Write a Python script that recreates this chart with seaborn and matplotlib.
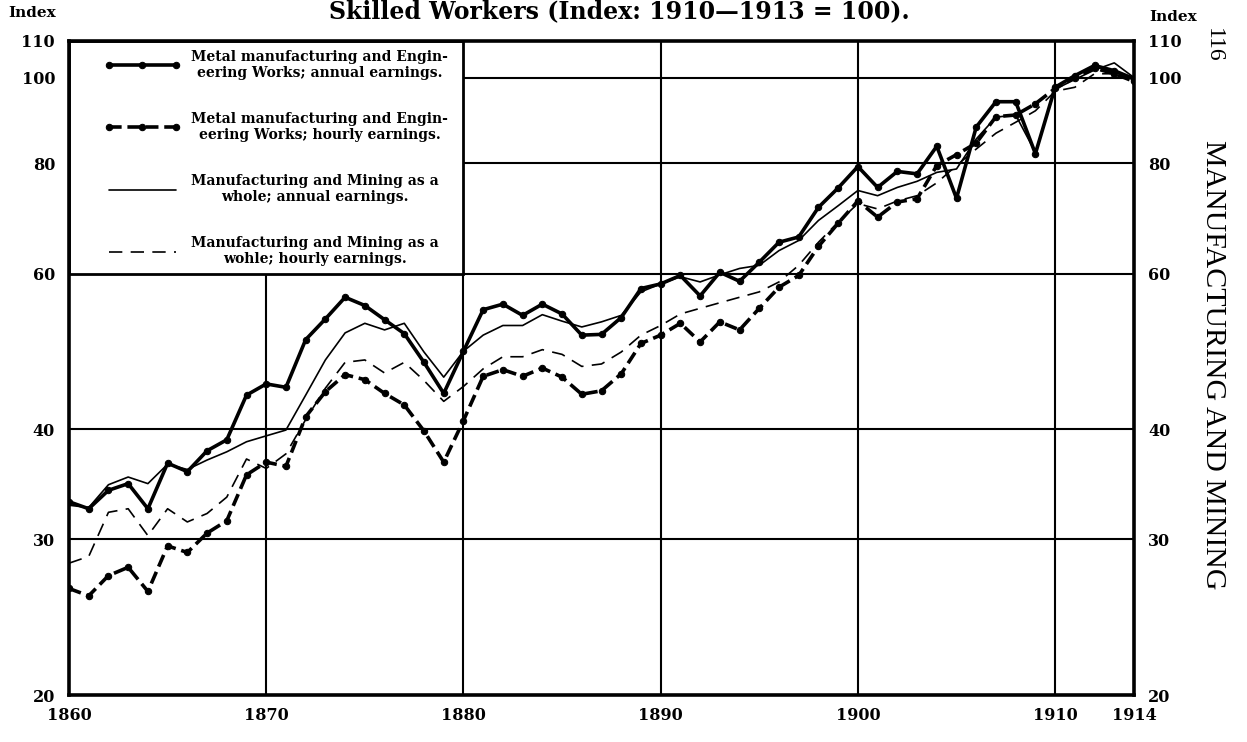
import pandas as pd
import matplotlib
matplotlib.use('Agg')
import matplotlib.pyplot as plt
from matplotlib.patches import Rectangle
import seaborn as sns

years = list(range(1860, 1915))

metal_annual = [33.1, 32.5, 34.1, 34.7, 32.5, 36.6, 35.8, 37.8, 38.9, 43.7, 45.0,
                44.6, 50.5, 53.3, 56.4, 55.2, 53.2, 51.3, 47.6, 43.9, 49.0,
                54.6, 55.4, 53.8, 55.4, 54.0, 51.1, 51.2, 53.5, 57.7, 58.4,
                59.7, 56.6, 60.2, 58.8, 61.8, 65.1, 66.0, 71.3, 75.0, 79.3,
                75.1, 78.3, 77.8, 83.6, 73.0, 87.9, 93.9, 93.9, 82.0, 97.5,
                100.5, 103.2, 101.8, 99.7]

metal_hourly = [26.4, 25.9, 27.3, 27.9, 26.2, 29.5, 29.0, 30.5, 31.5, 35.5, 36.7,
                36.3, 41.3, 44.1, 46.1, 45.5, 43.9, 42.6, 39.8, 36.7, 40.9,
                45.9, 46.7, 45.9, 46.9, 45.8, 43.8, 44.2, 46.2, 50.0, 51.1,
                52.7, 50.2, 52.9, 51.8, 54.8, 57.9, 59.7, 64.4, 68.4, 72.5,
                69.5, 72.3, 72.9, 79.5, 81.8, 84.3, 90.3, 90.7, 93.4, 97.2,
                100.0, 102.5, 101.0, 99.0]

manuf_annual = [32.8, 32.6, 34.6, 35.3, 34.7, 36.5, 36.0, 36.9, 37.7, 38.7, 39.3,
                39.9, 43.7, 47.9, 51.4, 52.7, 51.8, 52.7, 48.9, 45.8, 49.0,
                51.1, 52.4, 52.4, 53.9, 53.0, 52.2, 52.9, 53.8, 57.2, 58.4,
                59.5, 58.7, 59.8, 60.8, 61.3, 63.7, 65.4, 68.9, 71.6, 74.5,
                73.5, 75.1, 76.3, 78.1, 78.8, 85.2, 90.2, 90.7, 82.3, 97.0,
                99.5, 102.0, 103.9, 100.0]

manuf_hourly = [28.2, 28.7, 32.2, 32.5, 30.3, 32.5, 31.4, 32.1, 33.5, 37.0, 36.1,
                37.5, 41.0, 44.5, 47.6, 47.9, 46.3, 47.6, 45.4, 43.0, 44.7,
                46.8, 48.3, 48.3, 49.2, 48.6, 47.1, 47.4, 48.9, 51.1, 52.4,
                54.0, 54.8, 55.6, 56.4, 57.2, 58.7, 61.3, 65.1, 68.6, 72.0,
                71.0, 72.5, 73.5, 76.0, 79.5, 83.0, 86.5, 89.0, 91.7, 96.5,
                97.5, 101.0, 101.0, 99.5]

labels = ['Metal manufacturing and Engin-\neering Works; annual earnings.',
          'Metal manufacturing and Engin-\neering Works; hourly earnings.',
          'Manufacturing and Mining as a\nwhole; annual earnings.',
          'Manufacturing and Mining as a\nwohle; hourly earnings.']

y_ticks = [20, 30, 40, 60, 80, 100, 110]
x_ticks = [1860, 1870, 1880, 1890, 1900, 1910, 1914]


def main():
    sns.set_style('white')
    plt.rcParams['font.family'] = ['DejaVu Serif']
    plt.rcParams['font.weight'] = 'bold'
    for key in ['text.color', 'axes.labelcolor', 'xtick.color', 'ytick.color']:
        plt.rcParams[key] = 'black'

    df = pd.DataFrame({'year': years, 'metal_annual': metal_annual,
                       'metal_hourly': metal_hourly, 'manuf_annual': manuf_annual,
                       'manuf_hourly': manuf_hourly})

    fig = plt.figure(figsize=(12.47, 7.42), dpi=100)
    ax = fig.add_axes([69 / 1247, 47 / 742, 1065 / 1247, 654 / 742])

    sns.lineplot(data=df, x='year', y='metal_annual', ax=ax, color='black', lw=2.6,
                 marker='o', markersize=4.6, markeredgecolor='black', label=labels[0], zorder=4)
    sns.lineplot(data=df, x='year', y='metal_hourly', ax=ax, color='black', lw=2.6,
                 linestyle=(0, (3.5, 1.6)), marker='o', markersize=4.6,
                 markeredgecolor='black', label=labels[1], zorder=4)
    sns.lineplot(data=df, x='year', y='manuf_annual', ax=ax, color='black', lw=1.2,
                 label=labels[2], zorder=3)
    sns.lineplot(data=df, x='year', y='manuf_hourly', ax=ax, color='black', lw=1.2,
                 linestyle=(0, (8, 5)), label=labels[3], zorder=3)

    ax.set_yscale('log')
    ax.set_ylim(20, 110)
    ax.set_xlim(1860, 1914)
    ax.minorticks_off()
    ax.set_yticks(y_ticks)
    ax.set_yticklabels([str(v) for v in y_ticks])
    ax.set_xticks(x_ticks)
    ax.set_xticklabels([str(v) for v in x_ticks])
    ax.tick_params(axis='both', length=0, labelsize=11.5)
    ax.tick_params(axis='y', labelright=True, pad=10)
    ax.tick_params(axis='x', pad=9)
    ax.set_xlabel('')
    ax.set_ylabel('')

    # grid
    for v in [30, 40, 60, 80, 100]:
        ax.axhline(v, color='black', lw=1.5, zorder=1)
    for yr in [1870, 1880, 1890, 1900, 1910]:
        ax.axvline(yr, color='black', lw=1.5, zorder=1)
    for s in ax.spines.values():
        s.set_linewidth(2.6)
        s.set_color('black')

    # legend box
    ax.add_patch(Rectangle((1860, 60), 20, 50, facecolor='white', edgecolor='black',
                           lw=2, zorder=2))
    leg = ax.legend(loc='upper left', bbox_to_anchor=(0.022, 1.006), frameon=False,
                    prop={'family': 'DejaVu Serif', 'weight': 'bold', 'size': 10},
                    handlelength=5.4, numpoints=3, labelspacing=2.3,
                    handletextpad=0.8)
    leg.set_zorder(5)
    for t in leg.get_texts():
        t.set_multialignment('center')

    fig.text(0.497, 0.985, 'Skilled Workers (Index: 1910\u20141913 = 100).',
             ha='center', va='center', fontsize=17)
    fig.text(32 / 1247, 1 - 13 / 742, 'Index', ha='center', va='center', fontsize=11)
    fig.text(1173 / 1247, 1 - 17 / 742, 'Index', ha='center', va='center', fontsize=11)
    fig.text(1213 / 1247, 1 - 45 / 742, '116', rotation=-90, ha='center', va='center',
             fontsize=17, fontweight='normal', family='Liberation Serif')
    fig.text(1213 / 1247, 1 - 365 / 742, 'MANUFACTURING AND MINING', rotation=-90,
             ha='center', va='center', fontsize=21.5, fontweight='normal',
             family='Liberation Serif')

    fig.savefig('out.png', dpi=100)


if __name__ == '__main__':
    main()
